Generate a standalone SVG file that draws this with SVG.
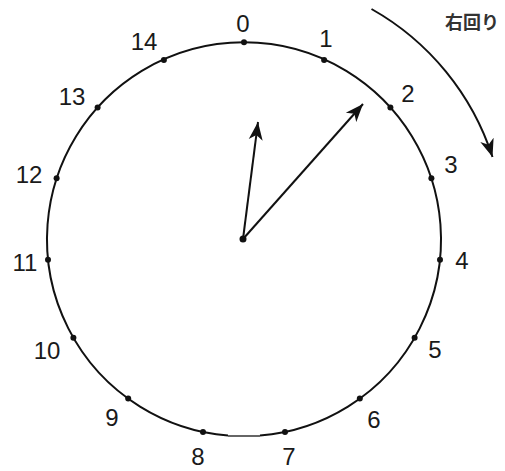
<svg xmlns="http://www.w3.org/2000/svg" width="505" height="471" viewBox="0 0 505 471">
<style>
.ln{fill:none;stroke:#111;stroke-width:2}
.dot{fill:#111}
.lb{font-family:"Liberation Sans",Arial,sans-serif;font-size:24px;fill:#1a1a1a;text-anchor:middle}
.jp{font-family:"Noto Sans CJK JP",sans-serif;font-size:18px;font-weight:bold;fill:#333}
</style>
<defs>
<marker id="ah" markerUnits="userSpaceOnUse" markerWidth="20" markerHeight="16" viewBox="0 0 20 16" refX="18" refY="8" orient="auto">
<path d="M0,1 L18,8 L0,15 L5,8 Z" fill="#111"/>
</marker>
</defs>
<g id="dial">
<path class="ln" d="M228,435.6 A197,197 0 1 1 260,435.6"/>
<line x1="228" y1="436" x2="260" y2="436" stroke="#666" stroke-width="2"/>
</g>
<g id="ticks">
<circle class="dot" cx="244" cy="42.2" r="3"/>
<circle class="dot" cx="324.1" cy="60" r="3"/>
<circle class="dot" cx="390.4" cy="107.4" r="3"/>
<circle class="dot" cx="431.4" cy="178.3" r="3"/>
<circle class="dot" cx="440" cy="259.8" r="3"/>
<circle class="dot" cx="414.6" cy="337.7" r="3"/>
<circle class="dot" cx="359.8" cy="398.6" r="3"/>
<circle class="dot" cx="285" cy="431.9" r="3"/>
<circle class="dot" cx="203" cy="431.9" r="3"/>
<circle class="dot" cx="128.2" cy="398.6" r="3"/>
<circle class="dot" cx="73.4" cy="337.7" r="3"/>
<circle class="dot" cx="48" cy="259.8" r="3"/>
<circle class="dot" cx="56.6" cy="178.3" r="3"/>
<circle class="dot" cx="97.6" cy="107.4" r="3"/>
<circle class="dot" cx="163.9" cy="60" r="3"/>
</g>
<g id="labels">
<text class="lb" x="243" y="32">0</text>
<text class="lb" x="326" y="47">1</text>
<text class="lb" x="408" y="102">2</text>
<text class="lb" x="451" y="173">3</text>
<text class="lb" x="462" y="269">4</text>
<text class="lb" x="435" y="358">5</text>
<text class="lb" x="374" y="428">6</text>
<text class="lb" x="289" y="465">7</text>
<text class="lb" x="198" y="465">8</text>
<text class="lb" x="112" y="426">9</text>
<text class="lb" x="47" y="359">10</text>
<text class="lb" x="25" y="271">11</text>
<text class="lb" x="29" y="183">12</text>
<text class="lb" x="72" y="105">13</text>
<text class="lb" x="144" y="50">14</text>
</g>
<g id="hands">
<circle class="dot" cx="243" cy="239" r="3.5"/>
<line class="ln" x1="243" y1="239" x2="258" y2="122" marker-end="url(#ah)"/>
<line class="ln" x1="243" y1="239" x2="363" y2="104" marker-end="url(#ah)"/>
</g>
<g id="rotation">
<path class="ln" d="M371.5,9 A263,263 0 0 1 492.5,157" marker-end="url(#ah)"/>
<text class="jp" x="445" y="29">右回り</text>
</g>
</svg>
